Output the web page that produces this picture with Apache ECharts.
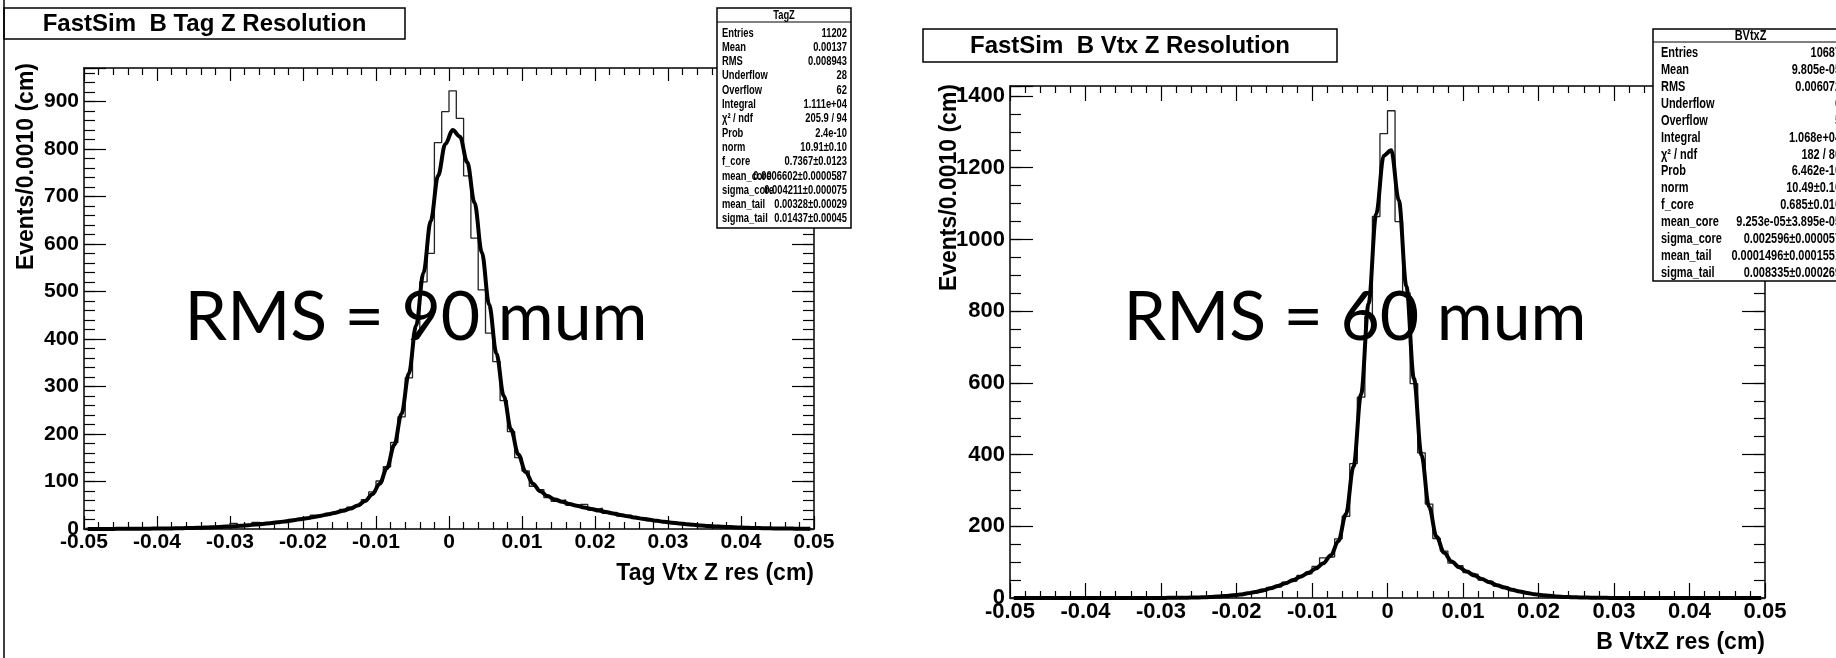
<!DOCTYPE html>
<html>
<head>
<meta charset="utf-8">
<script src="https://cdn.jsdelivr.net/npm/echarts@6/dist/echarts.min.js"></script>
<style>
html, body { margin: 0; padding: 0; background: #fff; }
#chart { width: 1836px; height: 658px; }
</style>
</head>
<body>
<div id="chart"></div>
<script>
// Binning shared by both histograms: 100 bins of 0.001 cm from -0.05 to 0.05
const xMin = -0.05;
const xMax = 0.05;
const binWidth = 0.001;
const xTickLabels = ['-0.05', '-0.04', '-0.03', '-0.02', '-0.01', '0', '0.01', '0.02', '0.03', '0.04', '0.05'];

// Tag vertex Z residual: bin contents and double-Gaussian fit at bin centres
const tagZCounts = [
  1, 0, 2, 1, 0, 1, 2, 1, 0, 2,
  1, 3, 2, 1, 3, 4, 2, 5, 3, 6,
  12, 7, 9, 14, 11, 13, 17, 15, 20, 24,
  21, 29, 27, 33, 36, 41, 46, 50, 62, 78,
  101, 131, 182, 236, 318, 410, 520, 580, 813, 878,
  922, 864, 743, 612, 503, 412, 352, 270, 205, 150,
  122, 90, 83, 66, 58, 61, 50, 47, 52, 40,
  44, 33, 35, 27, 29, 22, 24, 18, 16, 17,
  12, 13, 9, 10, 7, 8, 5, 6, 4, 3,
  4, 2, 3, 1, 2, 1, 1, 0, 1, 0
];
const tagZFit = [
  0.1, 0.1, 0.2, 0.2, 0.3, 0.3, 0.4, 0.5, 0.6, 0.8,
  1.0, 1.2, 1.4, 1.7, 2.1, 2.5, 3.0, 3.6, 4.3, 5.0,
  5.9, 6.9, 8.1, 9.3, 10.7, 12.3, 14.0, 16.0, 18.0, 20.3,
  22.7, 25.3, 28.0, 31.1, 34.4, 38.3, 43.0, 49.4, 58.8, 73.1,
  95.1, 128.5, 176.7, 242.7, 327.4, 428.3, 538.8, 648.2, 743.1, 810.1,
  839.3, 825.6, 771.8, 686.4, 581.9, 472.2, 368.9, 280.0, 209.3, 156.7,
  119.9, 95.4, 79.5, 69.2, 62.2, 57.1, 52.8, 49.1, 45.5, 42.2,
  38.9, 35.7, 32.6, 29.6, 26.8, 24.1, 21.6, 19.3, 17.1, 15.1,
  13.3, 11.6, 10.1, 8.7, 7.5, 6.5, 5.5, 4.7, 4.0, 3.3,
  2.8, 2.3, 1.9, 1.6, 1.3, 1.1, 0.9, 0.7, 0.6, 0.5
];
const tagZYTickLabels = ['0', '100', '200', '300', '400', '500', '600', '700', '800', '900'];

// B vertex Z residual: bin contents and double-Gaussian fit at bin centres
const bVtxZCounts = [
  0, 0, 1, 0, 0, 0, 0, 1, 0, 0,
  0, 0, 1, 0, 0, 0, 1, 0, 0, 1,
  0, 1, 1, 2, 1, 3, 2, 5, 6, 8,
  11, 14, 15, 20, 29, 31, 44, 47, 63, 68,
  88, 112, 115, 165, 228, 375, 560, 785, 1064, 1295,
  1359, 1050, 851, 598, 405, 262, 166, 131, 97, 90,
  71, 66, 50, 46, 33, 31, 21, 19, 13, 11,
  9, 5, 5, 3, 2, 1, 2, 1, 0, 1,
  0, 0, 1, 0, 0, 0, 0, 0, 0, 0,
  0, 0, 0, 0, 0, 0, 0, 0, 0, 0
];
const bVtxZFit = [
  0, 0, 0, 0, 0, 0, 0, 0, 0, 0,
  0, 0, 0, 0, 0, 0, 0, 0, 0.1, 0.2,
  0.3, 0.4, 0.7, 1.0, 1.4, 2.0, 2.8, 3.9, 5.4, 7.4,
  9.8, 12.9, 16.8, 21.5, 27.1, 33.8, 41.4, 50.0, 59.6, 70.2,
  82.1, 96.9, 119.2, 159.2, 234.5, 366.8, 568.1, 821.7, 1070.6, 1233.8,
  1248.7, 1109.0, 869.7, 611.9, 398.9, 254.7, 170.7, 126.0, 101.6, 85.8,
  73.6, 62.6, 52.8, 43.9, 35.9, 29.0, 23.1, 18.1, 14.0, 10.7,
  8.0, 6.0, 4.4, 3.1, 2.2, 1.6, 1.1, 0.7, 0.5, 0.3,
  0.2, 0.1, 0, 0, 0, 0, 0, 0, 0, 0,
  0, 0, 0, 0, 0, 0, 0, 0, 0, 0
];
const bVtxZYTickLabels = ['0', '200', '400', '600', '800', '1000', '1200', '1400'];

// Statistics boxes
const statsLabels = ['Entries', 'Mean', 'RMS', 'Underflow', 'Overflow', 'Integral', 'χ² / ndf', 'Prob',
  'norm', 'f_core', 'mean_core', 'sigma_core', 'mean_tail', 'sigma_tail'];
const tagZStatsValues = ['11202', '0.00137', '0.008943', '28', '62', '1.111e+04', '205.9 / 94', '2.4e-10',
  '10.91±0.10', '0.7367±0.0123', '0.0006602±0.0000587', '0.004211±0.000075', '0.00328±0.00029', '0.01437±0.00045'];
const bVtxZStatsValues = ['10687', '9.805e-05', '0.006072', '6', '5', '1.068e+04', '182 / 80', '6.462e-10',
  '10.49±0.10', '0.685±0.010', '9.253e-05±3.895e-05', '0.002596±0.000057', '0.0001496±0.0001551', '0.008335±0.000269'];

const FONT = '"Liberation Sans", Arial, Helvetica, sans-serif';

function histPoints(counts) {
  const pts = counts.map((c, k) => [xMin + k * binWidth, c]);
  pts.push([xMax, counts[counts.length - 1]]);
  return pts;
}
function fitPoints(vals) {
  return vals.map((v, k) => [xMin + (k + 0.5) * binWidth, v]);
}
function xLabel(v) {
  const idx = Math.round((v - xMin) / 0.01);
  return Math.abs(xMin + idx * 0.01 - v) < 1e-9 ? (xTickLabels[idx] || '') : '';
}

function xAxisPair(grid, majorLen, minorLen, fontPx) {
  const base = {
    gridIndex: grid, type: 'value', min: xMin, max: xMax, interval: 0.01,
    axisLine: { show: true, onZero: false, lineStyle: { color: '#000', width: 1.5 } },
    axisTick: { show: true, inside: true, length: majorLen, lineStyle: { color: '#000', width: 1.2 } },
    minorTick: { show: true, splitNumber: 5, length: minorLen, lineStyle: { color: '#000', width: 1.2 } },
    splitLine: { show: false }, minorSplitLine: { show: false }
  };
  return [
    Object.assign({}, base, {
      position: 'bottom',
      axisLabel: {
        show: true, margin: 3, color: '#000', fontFamily: FONT, fontWeight: 'bold', fontSize: fontPx,
        showMinLabel: true, showMaxLabel: true, formatter: xLabel
      }
    }),
    Object.assign({}, base, { position: 'top', axisLabel: { show: false } })
  ];
}

function yAxisSet(grid, yMax, interval, minorInterval, labels, majorLen, minorLen, fontPx) {
  const common = { gridIndex: grid, type: 'value', min: 0, max: yMax, splitLine: { show: false } };
  const line = { show: true, onZero: false, lineStyle: { color: '#000', width: 1.5 } };
  const noLine = { show: false, onZero: false };
  const tickStyle = { color: '#000', width: 1.2 };
  const fmt = v => {
    const idx = Math.round(v / interval);
    return Math.abs(idx * interval - v) < 1e-6 ? (labels[idx] || '') : '';
  };
  return [
    Object.assign({}, common, {
      position: 'left', interval: interval, axisLine: line,
      axisTick: { show: true, inside: true, length: majorLen, lineStyle: tickStyle },
      axisLabel: { show: true, margin: 5, color: '#000', fontFamily: FONT, fontWeight: 'bold', fontSize: fontPx, formatter: fmt }
    }),
    Object.assign({}, common, {
      position: 'left', interval: minorInterval, axisLine: noLine,
      axisTick: { show: true, inside: true, length: minorLen, lineStyle: tickStyle },
      axisLabel: { show: false }
    }),
    Object.assign({}, common, {
      position: 'right', interval: interval, axisLine: line,
      axisTick: { show: true, inside: true, length: majorLen, lineStyle: tickStyle },
      axisLabel: { show: false }
    }),
    Object.assign({}, common, {
      position: 'right', interval: minorInterval, axisLine: noLine,
      axisTick: { show: true, inside: true, length: minorLen, lineStyle: tickStyle },
      axisLabel: { show: false }
    })
  ];
}

function txt(x, y, text, font, align, vAlign, extra) {
  return Object.assign({
    type: 'text', x: x, y: y, z: 20,
    style: {
      x: 0, y: 0, text: text, font: font, fill: '#000',
      align: align, textAlign: align, verticalAlign: vAlign, textVerticalAlign: vAlign
    }
  }, extra || {});
}
function rect(x, y, w, h) {
  return { type: 'rect', z: 15, shape: { x: x, y: y, width: w, height: h },
    style: { fill: '#fff', stroke: '#000', lineWidth: 1.5 } };
}
function hline(x1, x2, y) {
  return { type: 'line', z: 16, shape: { x1: x1, y1: y, x2: x2, y2: y }, style: { stroke: '#000', lineWidth: 1.2 } };
}

function statsBox(name, values, box, rows, fontPx, squeeze) {
  const font = 'bold ' + fontPx + 'px ' + FONT;
  const sq = { scaleX: squeeze };
  const els = [rect(box.x, box.y, box.w, box.h), hline(box.x, box.x + box.w, rows.sepY),
    txt(box.x + box.w / 2, rows.headerY, name, font, 'center', 'middle', sq)];
  statsLabels.forEach((lab, i) => {
    const ry = rows.firstY + i * rows.step;
    els.push(txt(rows.labelX, ry, lab, font, 'left', 'middle', sq));
    els.push(txt(rows.valueX, ry, values[i], font, 'right', 'middle', sq));
  });
  return els;
}

const titleFont = 'bold 24px ' + FONT;
const axisTitleFont = 'bold 23px ' + FONT;
const yTitleFont = 'bold 23px ' + FONT;
const bigFont = '68px Lato, "Open Sans", sans-serif';

const graphics = [
  { type: 'line', z: 16, shape: { x1: 4, y1: 0, x2: 4, y2: 658 }, style: { stroke: '#000', lineWidth: 1.5 } },
  rect(4, 8, 401, 31),
  txt(204.5, 24, 'FastSim  B Tag Z Resolution', titleFont, 'center', 'middle'),
  rect(923, 29, 414, 33),
  txt(1130, 46, 'FastSim  B Vtx Z Resolution', titleFont, 'center', 'middle'),
  txt(27, 63, 'Events/0.0010 (cm)', yTitleFont, 'right', 'middle', { rotation: Math.PI / 2 }),
  txt(950, 84, 'Events/0.0010 (cm)', yTitleFont, 'right', 'middle', { rotation: Math.PI / 2 }),
  txt(814, 574, 'Tag Vtx Z res (cm)', axisTitleFont, 'right', 'middle'),
  txt(1765, 643, 'B VtxZ res (cm)', axisTitleFont, 'right', 'middle'),
  txt(416, 318, 'RMS = 90 mum', bigFont, 'center', 'middle'),
  txt(1355, 318, 'RMS = 60 mum', bigFont, 'center', 'middle')
].concat(
  statsBox('TagZ', tagZStatsValues,
    { x: 717, y: 8, w: 134, h: 220 },
    { headerY: 15, sepY: 22, firstY: 33, step: 14.3, labelX: 722, valueX: 847 }, 13, 0.72),
  statsBox('BVtxZ', bVtxZStatsValues,
    { x: 1653, y: 29, w: 195, h: 252 },
    { headerY: 35.5, sepY: 42, firstY: 53, step: 16.9, labelX: 1661, valueX: 1841 }, 15, 0.73)
);

const option = {
  animation: false,
  backgroundColor: '#fff',
  grid: [
    { left: 84, top: 68, width: 730, height: 461, outerBoundsMode: 'none', containLabel: false },
    { left: 1010, top: 86, width: 755, height: 512, outerBoundsMode: 'none', containLabel: false }
  ],
  xAxis: [].concat(xAxisPair(0, 13, 7, 21), xAxisPair(1, 15, 7, 22)),
  yAxis: [].concat(
    yAxisSet(0, 970, 100, 20, tagZYTickLabels, 22, 11, 21),
    yAxisSet(1, 1428, 200, 50, bVtxZYTickLabels, 23, 11, 22)
  ),
  series: [
    { name: 'TagZ', type: 'line', xAxisIndex: 0, yAxisIndex: 0, data: histPoints(tagZCounts), step: 'end',
      symbol: 'none', clip: false, z: 2, lineStyle: { color: '#222', width: 1.3 } },
    { name: 'TagZ fit', type: 'line', xAxisIndex: 0, yAxisIndex: 0, data: fitPoints(tagZFit),
      smooth: 0.35, smoothMonotone: 'x', symbol: 'none', clip: false, z: 3, lineStyle: { color: '#000', width: 4 } },
    { name: 'BVtxZ', type: 'line', xAxisIndex: 2, yAxisIndex: 4, data: histPoints(bVtxZCounts), step: 'end',
      symbol: 'none', clip: false, z: 2, lineStyle: { color: '#222', width: 1.3 } },
    { name: 'BVtxZ fit', type: 'line', xAxisIndex: 2, yAxisIndex: 4, data: fitPoints(bVtxZFit),
      smooth: 0.35, smoothMonotone: 'x', symbol: 'none', clip: false, z: 3, lineStyle: { color: '#000', width: 4 } }
  ],
  graphic: { elements: graphics }
};

const chart = echarts.init(document.getElementById('chart'));
chart.setOption(option);
</script>
</body>
</html>
